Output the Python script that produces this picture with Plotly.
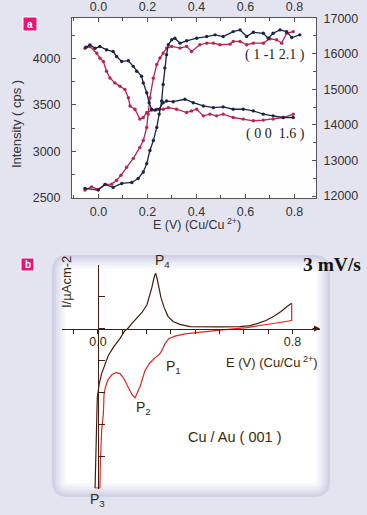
import plotly.graph_objects as go

W, H = 367, 515

# ---------------- Panel a data (E in V vs Cu/Cu2+) ----------------
# (1 -1 2.1) reflection, left axis (cps)
e_112_dark = [-0.055, -0.001, 0.027, 0.060, 0.095, 0.136, 0.162, 0.183, 0.197, 0.210, 0.224, 0.238, 0.248,
              0.258, 0.264, 0.271, 0.278, 0.285, 0.299, 0.312, 0.333, 0.360, 0.401, 0.442, 0.476, 0.509,
              0.550, 0.578, 0.605, 0.632, 0.673, 0.693, 0.713, 0.741, 0.768, 0.789, 0.822]
i_112_dark = [2603, 2585, 2646, 2614, 2656, 2667, 2709, 2780, 2869, 3010, 3117, 3258, 3401, 3542, 3720, 3897,
              4039, 4146, 4199, 4216, 4163, 4188, 4216, 4234, 4252, 4234, 4287, 4305, 4234, 4280, 4269, 4216,
              4269, 4305, 4287, 4223, 4252]
e_112_red = [-0.055, -0.028, -0.001, 0.027, 0.054, 0.074, 0.092, 0.115, 0.142, 0.169, 0.183, 0.197, 0.203,
             0.210, 0.224, 0.238, 0.251, 0.264, 0.278, 0.299, 0.333, 0.360, 0.380, 0.414, 0.442, 0.469, 0.496,
             0.537, 0.550, 0.578, 0.605, 0.632, 0.673, 0.700, 0.727, 0.748, 0.768, 0.795]
i_112_red = [2585, 2620, 2593, 2646, 2649, 2690, 2745, 2830, 2925, 3043, 3117, 3258, 3401, 3574, 3787, 3933,
             4003, 4056, 4110, 4128, 4110, 4128, 4074, 4146, 4163, 4163, 4146, 4152, 4181, 4181, 4146, 4163,
             4163, 4210, 4199, 4163, 4269, 4287]

# (0 0 1.6) reflection, right axis (cps)
e_001_dark = [-0.051, -0.035, -0.014, 0.006, 0.033, 0.060, 0.074, 0.095, 0.122, 0.142, 0.156, 0.176, 0.183,
              0.197, 0.207, 0.217, 0.231, 0.248, 0.264, 0.278, 0.305, 0.353, 0.387, 0.428, 0.469, 0.509,
              0.550, 0.591, 0.632, 0.673, 0.713, 0.754, 0.795]
i_001_dark = [16182, 16250, 16156, 16203, 16111, 16062, 15923, 15784, 15805, 15646, 15507, 15366, 15180, 14903,
              14623, 14440, 14414, 14440, 14623, 14670, 14652, 14720, 14623, 14531, 14484, 14505, 14440, 14440,
              14393, 14301, 14254, 14207, 14207]
e_001_red = [-0.055, -0.035, -0.007, 0.006, 0.020, 0.033, 0.047, 0.067, 0.088, 0.108, 0.122, 0.129, 0.149,
             0.169, 0.183, 0.197, 0.217, 0.238, 0.264, 0.285, 0.319, 0.360, 0.380, 0.401, 0.428, 0.455, 0.482,
             0.509, 0.550, 0.591, 0.632, 0.673, 0.713, 0.754, 0.795]
i_001_red = [16156, 16203, 16014, 15876, 15784, 15507, 15319, 15180, 15088, 14997, 14764, 14531, 14440, 14162,
             14207, 14346, 14414, 14440, 14440, 14484, 14440, 14346, 14393, 14440, 14254, 14301, 14254, 14301,
             14207, 14162, 14115, 14134, 14162, 14207, 14301]

x_ticks_a = [0.0, 0.2, 0.4, 0.6, 0.8]

# ---------------- Panel b data (cyclic voltammogram) ----------------
cv_anodic_e = [-0.012, -0.010, -0.006, -0.003, 0.005, 0.015, 0.029, 0.042, 0.063, 0.091, 0.111, 0.123, 0.140,
               0.160, 0.181, 0.202, 0.214, 0.222, 0.230, 0.237, 0.243, 0.251, 0.259, 0.272, 0.288, 0.309,
               0.337, 0.379, 0.420, 0.502, 0.584, 0.626, 0.658, 0.691, 0.724, 0.753, 0.778, 0.797]
cv_anodic_i = [-49.9, -39.9, -31.1, -21.7, -17.3, -14.1, -11.0, -8.5, -5.9, -3.1, -0.6, 0.0, 1.6, 3.1, 5.0,
               7.5, 10.4, 12.9, 15.7, 17.3, 15.7, 12.9, 9.7, 6.6, 3.8, 2.2, 1.3, 0.6, 0.5, 0.5, 0.6, 0.9, 1.6,
               2.5, 3.8, 5.3, 6.9, 7.9]
cv_cathodic_e = [0.797, 0.797, 0.708, 0.613, 0.502, 0.420, 0.358, 0.317, 0.292, 0.276, 0.263, 0.251, 0.235,
                 0.214, 0.193, 0.173, 0.160, 0.152, 0.140, 0.123, 0.107, 0.091, 0.074, 0.058, 0.041, 0.031,
                 0.025, 0.022, 0.015, 0.010, 0.008, -0.012]
cv_cathodic_i = [7.9, 2.5, 1.4, 0.3, -0.5, -1.1, -1.7, -2.4, -3.1, -4.7, -6.9, -8.2, -9.1, -10.7, -13.2, -18.2,
                 -20.4, -21.7, -20.7, -18.2, -15.7, -14.1, -13.8, -14.4, -16.0, -18.2, -20.4, -26.7, -32.0,
                 -41.4, -49.9, -49.9]
cv_x_ticks = [-0.1, 0.0, 0.1, 0.2, 0.3, 0.4, 0.5, 0.6, 0.7, 0.8]
cv_x_ticktext = ["", "0.0", "", "", "", "", "", "", "", "0.8"]

# peak labels
peak_names = ["P<sub>4</sub>", "P<sub>1</sub>", "P<sub>2</sub>", "P<sub>3</sub>"]


def px(x):
    return x / W


def py(y):
    return 1 - y / H


NAVY = "#1c2448"
CRIMSON = "#b8264f"
BROWN = "#4b1a0e"
RED = "#e4261d"
TXT_A = "#333333"
TXT_B = "#3b2a0a"
PINK = "#e5177b"

fig = go.Figure()

mk = dict(size=3.4)
fig.add_trace(go.Scatter(x=e_112_red, y=i_112_red, mode="lines+markers", line=dict(color=CRIMSON, width=1.3),
                         marker=dict(color=CRIMSON, **mk), xaxis="x", yaxis="y"))
fig.add_trace(go.Scatter(x=e_112_dark, y=i_112_dark, mode="lines+markers", line=dict(color=NAVY, width=1.3),
                         marker=dict(color=NAVY, **mk), xaxis="x", yaxis="y"))
fig.add_trace(go.Scatter(x=e_001_red, y=i_001_red, mode="lines+markers", line=dict(color=CRIMSON, width=1.3),
                         marker=dict(color=CRIMSON, **mk), xaxis="x2", yaxis="y2"))
fig.add_trace(go.Scatter(x=e_001_dark, y=i_001_dark, mode="lines+markers", line=dict(color=NAVY, width=1.3),
                         marker=dict(color=NAVY, **mk), xaxis="x2", yaxis="y2"))

fig.add_trace(go.Scatter(x=cv_cathodic_e, y=cv_cathodic_i, mode="lines", line=dict(color=RED, width=1.2),
                         xaxis="x3", yaxis="y3"))
fig.add_trace(go.Scatter(x=cv_anodic_e, y=cv_anodic_i, mode="lines", line=dict(color=BROWN, width=1.2),
                         xaxis="x3", yaxis="y3"))

tickfont_a = dict(family="Liberation Sans, Arial", size=12.5, color=TXT_A)
AX = "#555555"
xr = [-0.108, 0.888]
common_x = dict(range=xr, showline=True, linecolor=AX, linewidth=1, ticks="inside", ticklen=4, tickcolor=AX,
                tickvals=x_ticks_a, tickformat=".1f", showgrid=False, zeroline=False, tickfont=tickfont_a,
                automargin=False,
                minor=dict(ticks="inside", ticklen=3, dtick=0.1, tick0=0, tickcolor=AX))
dom_x_a = [px(72), px(316)]
dom_y_a = [py(198), py(18)]

shapes = []
# panel a plot background
shapes.append(dict(type="rect", xref="paper", yref="paper", x0=px(72), x1=px(316), y0=py(198), y1=py(18),
                   fillcolor="#fefefe", line=dict(width=0), layer="below"))


def rrect(x0, y0, x1, y1, r):
    return (f"M {px(x0 + r)},{py(y0)} L {px(x1 - r)},{py(y0)} Q {px(x1)},{py(y0)} {px(x1)},{py(y0 + r)} "
            f"L {px(x1)},{py(y1 - r)} Q {px(x1)},{py(y1)} {px(x1 - r)},{py(y1)} "
            f"L {px(x0 + r)},{py(y1)} Q {px(x0)},{py(y1)} {px(x0)},{py(y1 - r)} "
            f"L {px(x0)},{py(y0 + r)} Q {px(x0)},{py(y0)} {px(x0 + r)},{py(y0)} Z")


box_cols = ["#d0d0e4", "#d7d7e9", "#dfdfee", "#e6e6f2", "#ededf6", "#f3f3fa", "#f9f9fc", "#ffffff"]
for k, c in enumerate(box_cols):
    d = 2 * k
    shapes.append(dict(type="path", xref="paper", yref="paper", path=rrect(52 + d, 255 + d, 330 - d, 497 - d,
                                                                           max(16 - d, 4)),
                       fillcolor=c, line=dict(width=0), layer="below"))

# pink panel tags
shapes.append(dict(type="rect", xref="paper", yref="paper", x0=px(23), x1=px(37), y0=py(31), y1=py(17),
                   fillcolor=PINK, line=dict(color="white", width=1)))
shapes.append(dict(type="rect", xref="paper", yref="paper", x0=px(21), x1=px(34), y0=py(271), y1=py(258),
                   fillcolor=PINK, line=dict(color="white", width=1)))

ann = []


def A(text, x, y, size, color, **kw):
    d = dict(text=text, x=px(x), y=py(y), xref="paper", yref="paper", showarrow=False,
             font=dict(size=size, color=color, family=kw.pop("family", "Liberation Sans, Arial")),
             xanchor=kw.pop("xanchor", "center"), yanchor="middle")
    d.update(kw)
    ann.append(d)


A("<b>a</b>", 30, 24, 10, "white")
A("<b>b</b>", 27.5, 264.5, 10, "white")
A("E (V) (Cu/Cu<sup> 2+</sup>)", 197, 224, 12.5, TXT_A)
A("Intensity ( cps )", 16, 124, 13, TXT_A, textangle=-90)
A("( 1 -1 2.1 )", 275, 55, 14, "#222222", family="Liberation Serif, Times New Roman")
A("( 0 0  1.6 )", 275, 134, 14, "#222222", family="Liberation Serif, Times New Roman")
A("<b>3 mV/s</b>", 363, 264, 19.5, "#111111", family="Liberation Serif, Times New Roman", xanchor="right")
A("I/µAcm-2", 66, 282, 13, TXT_B, textangle=-90)
A("E (V) (Cu/Cu<sup> 2+</sup>)", 272, 362, 13, TXT_B)
A("Cu / Au ( 001 )", 235, 437, 14.5, TXT_B)

for name, (x, y) in zip(peak_names, [(162, 261), (173, 367), (143, 408), (97, 500)]):
    A(name, x, y, 14, TXT_B)

# arrow head at end of the potential axis
ann.append(dict(text="", x=0.9136, y=0, xref="x3", yref="y3", ax=-9, ay=0, showarrow=True, arrowhead=2,
                arrowsize=1, arrowwidth=1.2, arrowcolor=BROWN))

fig.update_layout(
    width=W, height=H, margin=dict(l=0, r=0, t=0, b=0, autoexpand=False), paper_bgcolor="#e4e4f0",
    plot_bgcolor="rgba(0,0,0,0)", showlegend=False,
    xaxis=dict(domain=dom_x_a, anchor="y", side="bottom", ticklabelstandoff=2, **common_x),
    xaxis2=dict(domain=dom_x_a, anchor="y", overlaying="x", side="top", ticklabelstandoff=1, **common_x),
    yaxis=dict(domain=dom_y_a, anchor="x", range=[2500, 4433], showline=True, linecolor=AX, linewidth=1,
               ticks="inside", ticklen=4, tickcolor=AX, dtick=500, tick0=2500, showgrid=False, zeroline=False,
               tickfont=tickfont_a, ticklabelstandoff=8, automargin=False,
               minor=dict(ticks="inside", ticklen=3, dtick=250, tick0=2500, tickcolor=AX)),
    yaxis2=dict(domain=dom_y_a, anchor="x", overlaying="y", side="right", range=[11944, 17005], showline=True,
                linecolor=AX, linewidth=1, ticks="inside", ticklen=4, tickcolor=AX, dtick=1000, tick0=12000,
                tickformat="d", showgrid=False, zeroline=False, tickfont=tickfont_a, ticklabelstandoff=4,
                automargin=False,
                minor=dict(ticks="inside", ticklen=3, dtick=500, tick0=12000, tickcolor=AX)),
    xaxis3=dict(domain=[px(62), px(320)], range=[-0.1481, 0.9136], anchor="free", position=py(328.5),
                showline=True, linecolor=BROWN, linewidth=1.2, ticks="outside", ticklen=4, tickcolor=BROWN,
                tickvals=cv_x_ticks, ticktext=cv_x_ticktext, showgrid=False, zeroline=False, automargin=False,
                ticklabelstandoff=-3,
                tickfont=dict(family="Liberation Sans, Arial", size=12.5, color=TXT_B)),
    yaxis3=dict(domain=[py(488.5), py(264.5)], range=[-50, 20], anchor="free", position=px(98),
                showline=True, linecolor=BROWN, linewidth=1.2, ticks="inside", ticklen=6, tickcolor=BROWN,
                dtick=10, tick0=0, showticklabels=False, showgrid=False, zeroline=False, automargin=False),
    shapes=shapes, annotations=ann,
)

fig.write_html("out.html", config={"displayModeBar": False},
               post_script="document.body.style.margin='0';document.body.style.background='#e4e4f0';")
